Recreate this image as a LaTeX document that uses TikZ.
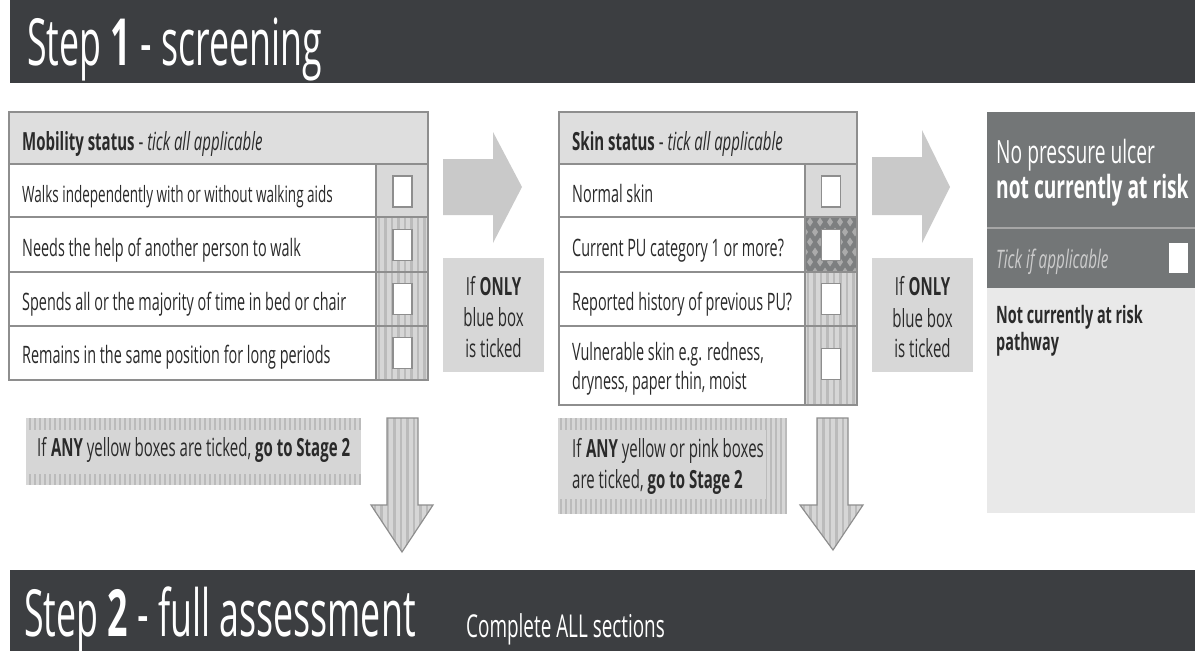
\documentclass[tikz,border=0pt]{standalone}
\usepackage{fontspec}
\setmainfont[FakeStretch=0.6]{Open Sans}
\newfontfamily\barfont[FakeStretch=0.55]{Open Sans}
\usetikzlibrary{positioning}

\definecolor{bargray}{HTML}{3C3E41}
\definecolor{headfill}{HTML}{DEDEDE}
\definecolor{linegray}{HTML}{8E8E8E}
\definecolor{bluecell}{HTML}{D9D9D9}
\definecolor{stripebg}{HTML}{D6D6D6}
\definecolor{stripeline}{HTML}{BBBBBB}
\definecolor{pinkcell}{HTML}{7D7F80}
\definecolor{pinkdot}{HTML}{ABABAB}
\definecolor{arrowgray}{HTML}{C9C9C9}
\definecolor{onlyfill}{HTML}{D7D7D7}
\definecolor{paneldark}{HTML}{737677}
\definecolor{panellight}{HTML}{E9E9E9}
\definecolor{inktext}{HTML}{2A2A2A}

\tikzset{
  txt/.style={anchor=base west, inner sep=0pt, text=inktext, font=\fontsize{24}{28}\selectfont},
  headtxt/.style={txt, font=\fontsize{25}{29}\selectfont},
  notetxt/.style={txt, font=\fontsize{25}{29}\selectfont},
  bigtxt/.style={anchor=base west, inner sep=0pt, text=white, font=\barfont\fontsize{65}{70}\selectfont},
  midtxt/.style={txt, font=\fontsize{25}{29}\selectfont, anchor=base},
  tablerule/.style={draw=linegray, line width=1.4pt},
  tickbox/.style={draw=linegray, fill=white, line width=1.2pt, minimum width=19pt, minimum height=31pt, inner sep=0pt},
  stripe/.style={stripeline, line width=2.4pt},
  finestripe/.style={stripeline, line width=1.8pt},
}

\begin{document}
\begin{tikzpicture}[x=1pt,y=-1pt]
  \useasboundingbox (0,0) rectangle (1195,651);

  % step 1 bar
  \fill[bargray] (10,0) rectangle (1195,83);
  \node[bigtxt] (step1) at (27,65) {Step \textbf{1} - screening};

  % mobility table
  \fill[headfill] (9,112) rectangle (428,164);
  \fill[white] (9,164) rectangle (376,380);
  \fill[bluecell] (376,164) rectangle (428,217);
  \begin{scope}
    \clip (376,217) rectangle (428,380);
    \fill[stripebg] (376,217) rectangle (428,380);
    \foreach \sx in {379,385.5,...,428} \draw[stripe] (\sx,217) -- (\sx,380);
  \end{scope}
  \draw[tablerule] (9,112) rectangle (428,380);
  \draw[tablerule] (9,164) -- (428,164);
  \draw[tablerule] (9,217) -- (428,217);
  \draw[tablerule] (9,272) -- (428,272);
  \draw[tablerule] (9,326) -- (428,326);
  \draw[tablerule] (376,164) -- (376,380);

  \node[headtxt] (mobhead) at (22,150) {\textbf{Mobility status} - \textit{tick all applicable}};
  \node[txt, font=\fontsize{22.5}{26}\selectfont] (mob1) at (22,202) {Walks independently with or without walking aids};
  \node[txt] (mob2) at (22,256) {Needs the help of another person to walk};
  \node[txt] (mob3) at (22,310) {Spends all or the majority of time in bed or chair};
  \node[txt] (mob4) at (22,363) {Remains in the same position for long periods};
  \node[tickbox] (mobbox1) at (402.5,191.5) {};
  \node[tickbox] (mobbox2) at (402.5,245) {};
  \node[tickbox] (mobbox3) at (402.5,299) {};
  \node[tickbox] (mobbox4) at (402.5,353) {};

  % first right arrow and note
  \fill[arrowgray] (443,159) -- (493,159) -- (493,132) -- (522,187) -- (493,243) -- (493,215) -- (443,215) -- cycle;
  \fill[onlyfill] (443,258) rectangle (544,372);
  \node[midtxt] (only1a) at (493.5,295) {If \textbf{ONLY}};
  \node[midtxt] (only1b) at (493.5,326) {blue box};
  \node[midtxt] (only1c) at (493.5,357) {is ticked};

  % skin table
  \fill[headfill] (559,112) rectangle (857,164);
  \fill[white] (559,164) rectangle (805,405);
  \fill[bluecell] (805,164) rectangle (857,217);
  \begin{scope}
    \clip (805,217) rectangle (857,272);
    \fill[pinkcell] (805,217) rectangle (857,272);
    \foreach \dx in {810,820,...,860} \foreach \dy in {222,242,262}
      \fill[pinkdot] (\dx,\dy-4.5) -- (\dx+3,\dy) -- (\dx,\dy+4.5) -- (\dx-3,\dy) -- cycle;
    \foreach \dx in {805,815,...,855} \foreach \dy in {232,252,272}
      \fill[pinkdot] (\dx,\dy-4.5) -- (\dx+3,\dy) -- (\dx,\dy+4.5) -- (\dx-3,\dy) -- cycle;
  \end{scope}
  \begin{scope}
    \clip (805,272) rectangle (857,405);
    \fill[stripebg] (805,272) rectangle (857,405);
    \foreach \sx in {808,814.5,...,857} \draw[stripe] (\sx,272) -- (\sx,405);
  \end{scope}
  \draw[tablerule] (559,112) rectangle (857,405);
  \draw[tablerule] (559,164) -- (857,164);
  \draw[tablerule] (559,217) -- (857,217);
  \draw[tablerule] (559,272) -- (857,272);
  \draw[tablerule] (559,326) -- (857,326);
  \draw[tablerule] (805,164) -- (805,405);

  \node[headtxt] (skinhead) at (572,150) {\textbf{Skin status} - \textit{tick all applicable}};
  \node[txt] (skin1) at (572,202) {Normal skin};
  \node[txt] (skin2) at (572,256) {Current PU category 1 or more?};
  \node[txt] (skin3) at (572,310) {Reported history of previous PU?};
  \node[txt] (skin4a) at (572,360) {Vulnerable skin e.g. redness,};
  \node[txt] (skin4b) at (572,389) {dryness, paper thin, moist};
  \node[tickbox] (skinbox1) at (831,191.5) {};
  \node[tickbox] (skinbox2) at (831,245) {};
  \node[tickbox] (skinbox3) at (831,299) {};
  \node[tickbox] (skinbox4) at (831,364) {};

  % second right arrow and note
  \fill[arrowgray] (872,157) -- (922,157) -- (922,130) -- (950,187) -- (922,243) -- (922,215) -- (872,215) -- cycle;
  \fill[onlyfill] (872,258) rectangle (973,372);
  \node[midtxt] (only2a) at (922.5,295) {If \textbf{ONLY}};
  \node[midtxt] (only2b) at (922.5,327) {blue box};
  \node[midtxt] (only2c) at (922.5,357) {is ticked};

  % outcome panel
  \fill[paneldark] (987,112) rectangle (1195,288);
  \fill[panellight] (987,288) rectangle (1195,513);
  \draw[line width=1.5pt, color=gray!70] (987,228) -- (1195,228);
  \node[txt, text=white, font=\fontsize{32}{36}\selectfont] (nopu) at (996,163) {No pressure ulcer};
  \node[txt, text=white, font=\fontsize{32}{36}\selectfont\bfseries] (notrisk) at (996,198) {not currently at risk};
  \node[txt, text=gray!40, font=\fontsize{25.5}{29}\selectfont\itshape] (tickif) at (996,268) {Tick if applicable};
  \node[tickbox, draw=none, minimum height=30pt] (panelbox) at (1178.5,258) {};
  \node[txt, font=\fontsize{24}{28}\selectfont\bfseries] (path1) at (996,323) {Not currently at risk};
  \node[txt, font=\fontsize{24}{28}\selectfont\bfseries] (path2) at (996,350) {pathway};

  % yellow banner and down arrow
  \begin{scope}
    \clip (26,418) rectangle (361,485);
    \fill[stripebg] (26,418) rectangle (361,485);
    \foreach \sx in {30,35,...,361} \draw[finestripe] (\sx,418) -- (\sx,485);
  \end{scope}
  \fill[stripebg] (26,430) rectangle (361,474);
  \node[notetxt] (yellownote) at (37,456) {If \textbf{ANY} yellow boxes are ticked, \textbf{go to Stage 2}};

  \begin{scope}
    \clip (387,418) -- (418,418) -- (418,505) -- (433,505) -- (402,552) -- (371,505) -- (387,505) -- cycle;
    \fill[stripebg] (371,418) rectangle (433,552);
    \foreach \sx in {375,381.5,...,433} \draw[stripe] (\sx,418) -- (\sx,552);
  \end{scope}
  \draw[draw=linegray, line width=1.2pt] (387,418) -- (418,418) -- (418,505) -- (433,505) -- (402,552) -- (371,505) -- (387,505) -- cycle;

  % pink banner and down arrow
  \begin{scope}
    \clip (558,418) rectangle (787,514);
    \fill[stripebg] (558,418) rectangle (787,514);
    \foreach \sx in {561,566,...,787} \draw[finestripe] (\sx,418) -- (\sx,514);
  \end{scope}
  \fill[stripebg] (558,430) rectangle (766,499);
  \node[notetxt] (pinknote1) at (572,457) {If \textbf{ANY} yellow or pink boxes};
  \node[notetxt] (pinknote2) at (572,488) {are ticked, \textbf{go to Stage 2}};

  \begin{scope}
    \clip (817,418) -- (848,418) -- (848,505) -- (863,505) -- (833,550) -- (800,505) -- (817,505) -- cycle;
    \fill[stripebg] (800,418) rectangle (863,550);
    \foreach \sx in {804,810.5,...,863} \draw[stripe] (\sx,418) -- (\sx,550);
  \end{scope}
  \draw[draw=linegray, line width=1.2pt] (817,418) -- (848,418) -- (848,505) -- (863,505) -- (833,550) -- (800,505) -- (817,505) -- cycle;

  % step 2 bar
  \fill[bargray] (10,570) rectangle (1195,651);
  \node[bigtxt] (step2) at (24,636) {Step \textbf{2} - full assessment};
  \node[txt, text=white, font=\fontsize{31.5}{35}\selectfont] (complete) at (466,637) {Complete ALL sections};
\end{tikzpicture}
\end{document}
